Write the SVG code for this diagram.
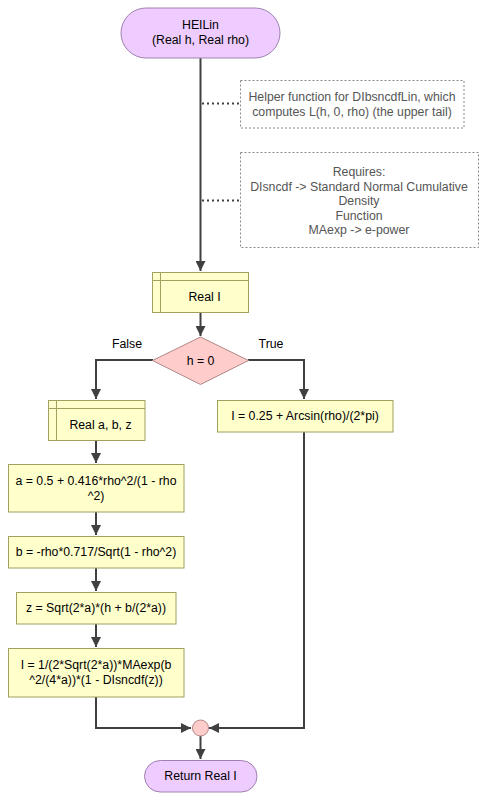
<svg xmlns="http://www.w3.org/2000/svg" width="489" height="801" viewBox="0 0 489 801">
<style>
text{font-family:"Liberation Sans",Arial,sans-serif;font-size:12.3px;fill:#000;text-anchor:middle}
.term{fill:#eeccff;stroke:#a080b0;stroke-width:1}
.proc{fill:#ffffcc;stroke:#a0a060;stroke-width:1}
.dec{fill:#ffcccc;stroke:#b08888;stroke-width:1}
.cmt{fill:none;stroke:#888;stroke-width:1;stroke-dasharray:2,2}
.ctext{fill:#555}
.edge{fill:none;stroke:#404040;stroke-width:2}
.dot{fill:none;stroke:#404040;stroke-width:2;stroke-dasharray:2,3}
</style>
<defs>
<marker id="arr" viewBox="0 0 10 10" refX="10" refY="5" markerWidth="5" markerHeight="5" orient="auto" markerUnits="strokeWidth">
<path d="M0,0 L10,5 L0,10 z" fill="#404040"/>
</marker>
</defs>
<g id="connectors">
<path class="edge" d="M200.5,58 V271" marker-end="url(#arr)"/>
<path class="edge" d="M200.5,312 V336" marker-end="url(#arr)"/>
<path class="edge" d="M153,360 H96 V399" marker-end="url(#arr)"/>
<path class="edge" d="M248,360 H304 V399" marker-end="url(#arr)"/>
<path class="edge" d="M96,440 V463" marker-end="url(#arr)"/>
<path class="edge" d="M96,512 V535" marker-end="url(#arr)"/>
<path class="edge" d="M96,568 V591" marker-end="url(#arr)"/>
<path class="edge" d="M96,624 V647" marker-end="url(#arr)"/>
<path class="edge" d="M96,697 V728 H191" marker-end="url(#arr)"/>
<path class="edge" d="M304,432 V728 H209" marker-end="url(#arr)"/>
<path class="edge" d="M200.5,736 V759" marker-end="url(#arr)"/>
<path class="dot" d="M202,103.5 H240"/>
<path class="dot" d="M202,200.5 H240"/>
</g>
<g id="start">
<rect class="term" x="121" y="8" width="159" height="50" rx="25" ry="25"/>
<text x="200.5" y="29">HEILin</text>
<text x="200.5" y="44">(Real h, Real rho)</text>
</g>
<g id="comment1">
<rect class="cmt" x="240.5" y="80.5" width="223.5" height="47.5"/>
<text class="ctext" x="352" y="101">Helper function for DIbsncdfLin, which</text>
<text class="ctext" x="352" y="116">computes L(h, 0, rho) (the upper tail)</text>
</g>
<g id="comment2">
<rect class="cmt" x="240.5" y="152.5" width="238" height="95"/>
<text class="ctext" x="359" y="176">Requires:</text>
<text class="ctext" x="359" y="190.5">DIsncdf -&gt; Standard Normal Cumulative</text>
<text class="ctext" x="359" y="205">Density</text>
<text class="ctext" x="359" y="219.5">Function</text>
<text class="ctext" x="359" y="234">MAexp -&gt; e-power</text>
</g>
<g id="declI">
<rect class="proc" x="152.5" y="272.5" width="96" height="40"/>
<path class="proc" d="M160.5,272.5 V312.5 M152.5,280.5 H248.5" fill="none"/>
<text x="204.5" y="301">Real I</text>
</g>
<g id="decision">
<polygon class="dec" points="200.5,337 248.5,360.5 200.5,384.5 152.5,360.5"/>
<text x="200.5" y="365">h = 0</text>
<text x="127" y="348">False</text>
<text x="271" y="348">True</text>
</g>
<g id="declabz">
<rect class="proc" x="48.5" y="400.5" width="96.5" height="40"/>
<path class="proc" d="M56.5,400.5 V440.5 M48.5,408.5 H145" fill="none"/>
<text x="100.5" y="429">Real a, b, z</text>
</g>
<g id="assignA">
<rect class="proc" x="8.5" y="464.5" width="175.5" height="47.5"/>
<text x="96" y="485">a = 0.5 + 0.416*rho^2/(1 - rho</text>
<text x="96" y="500">^2)</text>
</g>
<g id="assignB">
<rect class="proc" x="8.5" y="536.5" width="175.5" height="31.5"/>
<text x="96" y="556">b = -rho*0.717/Sqrt(1 - rho^2)</text>
</g>
<g id="assignZ">
<rect class="proc" x="16.5" y="592.5" width="159.5" height="31.5"/>
<text x="96" y="612">z = Sqrt(2*a)*(h + b/(2*a))</text>
</g>
<g id="assignI">
<rect class="proc" x="8.5" y="648.5" width="175.5" height="48.5"/>
<text x="96" y="669">I = 1/(2*Sqrt(2*a))*MAexp(b</text>
<text x="96" y="684">^2/(4*a))*(1 - DIsncdf(z))</text>
</g>
<g id="assignTrue">
<rect class="proc" x="217.5" y="400.5" width="175.5" height="31.5"/>
<text x="305" y="420">I = 0.25 + Arcsin(rho)/(2*pi)</text>
</g>
<g id="join">
<circle class="dec" cx="200.5" cy="728" r="8"/>
</g>
<g id="end">
<rect class="term" x="144.5" y="760.5" width="112.5" height="31.5" rx="15.75" ry="15.75"/>
<text x="200.5" y="780">Return Real I</text>
</g>
</svg>
